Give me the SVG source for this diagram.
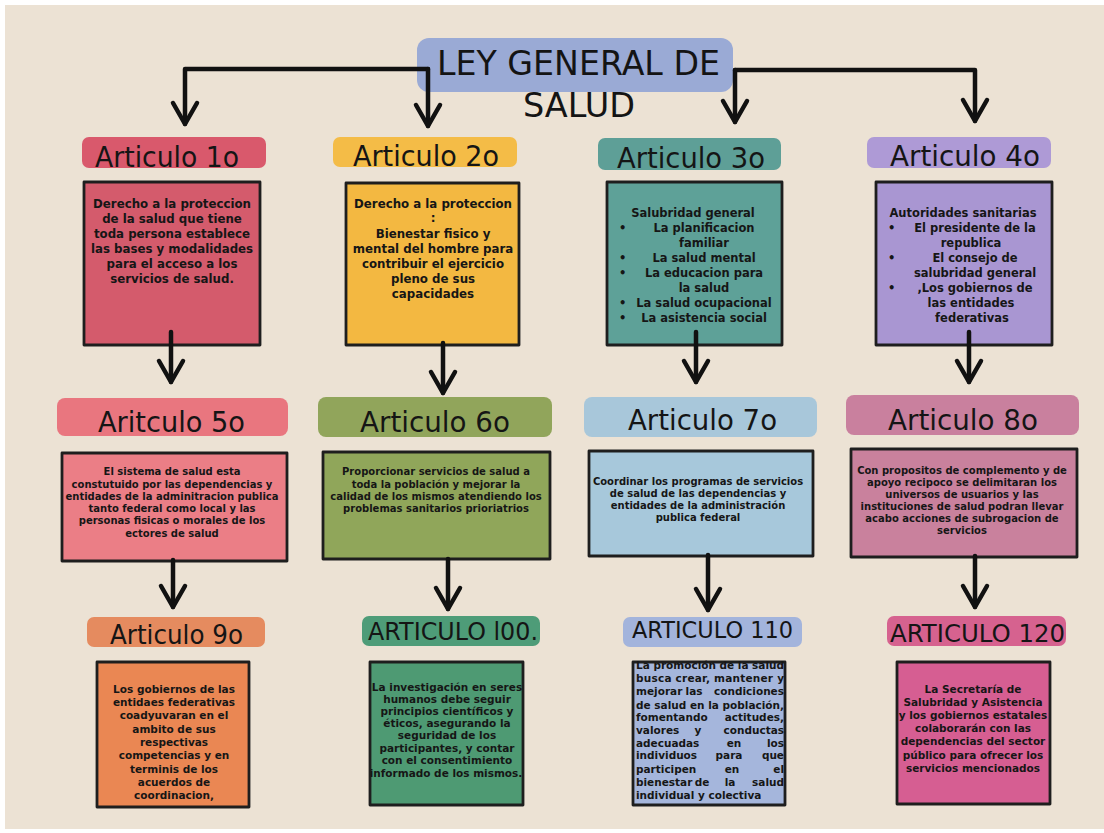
<svg xmlns="http://www.w3.org/2000/svg" width="1104" height="833" viewBox="0 0 1104 833">
<defs>
<style>
.hdr{font-family:"DejaVu Sans","Liberation Sans",sans-serif;fill:#151515;}
.tt{font-family:"DejaVu Sans","Liberation Sans",sans-serif;fill:#141414;font-size:34px;}
.bd{font-family:"DejaVu Sans","Liberation Sans",sans-serif;font-weight:bold;fill:#161616;text-anchor:middle;}
.bl{font-family:"DejaVu Sans","Liberation Sans",sans-serif;font-weight:bold;fill:#161616;}
.box{stroke:#1e1e1e;stroke-width:2.8;stroke-linejoin:round;}
.con{fill:none;stroke:#111;stroke-width:4.5;stroke-linecap:round;stroke-linejoin:round;marker-end:url(#ah);}
</style>
<marker id="ah" markerUnits="userSpaceOnUse" markerWidth="30" markerHeight="30" refX="0" refY="0" orient="auto" overflow="visible">
<path d="M-21,-12 L0,0 L-21,12" fill="none" stroke="#111" stroke-width="4.5" stroke-linecap="round" stroke-linejoin="round"/>
</marker>
</defs>
<rect x="0" y="0" width="1104" height="833" fill="#ffffff"/>
<rect x="5" y="5" width="1099" height="824" fill="#ECE2D4"/>

<g id="title">
<rect x="417" y="38" width="316" height="54" rx="12" fill="#9AAAD5"/>
<text class="tt" x="437" y="75" textLength="283" lengthAdjust="spacingAndGlyphs">LEY GENERAL DE</text>
<text class="tt" x="523" y="117" textLength="112" lengthAdjust="spacingAndGlyphs">SALUD</text>
</g>

<g id="art1">
<rect x="82" y="137" width="184" height="31" rx="7" fill="#D9596C"/>
<text class="hdr" x="95" y="167" font-size="27.5" textLength="144" lengthAdjust="spacingAndGlyphs">Articulo 1o</text>
<rect class="box" x="84" y="182" width="176" height="163" fill="#D45B6C"/>
<text class="bd" font-size="11.8"><tspan x="172" y="208">Derecho a la proteccion</tspan><tspan x="172" y="223">de la salud que tiene</tspan><tspan x="172" y="238">toda persona establece</tspan><tspan x="172" y="253">las bases y modalidades</tspan><tspan x="172" y="268">para el acceso a los</tspan><tspan x="172" y="283">servicios de salud.</tspan></text>
</g>

<g id="art2">
<rect x="333" y="137" width="184" height="30" rx="7" fill="#F4BC47"/>
<text class="hdr" x="353" y="166" font-size="27.5" textLength="146" lengthAdjust="spacingAndGlyphs">Articulo 2o</text>
<rect class="box" x="346" y="183" width="173" height="162" fill="#F3B841"/>
<text class="bd" font-size="11.8"><tspan x="433" y="208">Derecho a la proteccion</tspan><tspan x="433" y="222">:</tspan><tspan x="433" y="238">Bienestar fisico y</tspan><tspan x="433" y="253">mental del hombre para</tspan><tspan x="433" y="268">contribuir el ejercicio</tspan><tspan x="433" y="283">pleno de sus</tspan><tspan x="433" y="298">capacidades</tspan></text>
</g>

<g id="art3">
<rect x="598" y="138" width="183" height="32" rx="7" fill="#5E9F97"/>
<text class="hdr" x="617" y="168" font-size="27.5" textLength="148" lengthAdjust="spacingAndGlyphs">Articulo 3o</text>
<rect class="box" x="607" y="182" width="175" height="163" fill="#5EA198"/>
<text class="bd" font-size="11.5"><tspan x="693" y="217">Salubridad general</tspan><tspan x="704" y="232">La planificacion</tspan><tspan x="704" y="247">familiar</tspan><tspan x="704" y="262">La salud mental</tspan><tspan x="704" y="277">La educacion para</tspan><tspan x="704" y="292">la salud</tspan><tspan x="704" y="307">La salud ocupacional</tspan><tspan x="704" y="322">La asistencia social</tspan></text>
<text class="bl" font-size="11.5"><tspan x="619" y="232">•</tspan><tspan x="619" y="262">•</tspan><tspan x="619" y="277">•</tspan><tspan x="619" y="307">•</tspan><tspan x="619" y="322">•</tspan></text>
</g>

<g id="art4">
<rect x="867" y="137" width="184" height="31" rx="7" fill="#AE9AD6"/>
<text class="hdr" x="890" y="166" font-size="27.5" textLength="150" lengthAdjust="spacingAndGlyphs">Articulo 4o</text>
<rect class="box" x="876" y="182" width="176" height="163" fill="#A996D2"/>
<text class="bd" font-size="11.5"><tspan x="963" y="217">Autoridades sanitarias</tspan><tspan x="975" y="232">El presidente de la</tspan><tspan x="971" y="247">republica</tspan><tspan x="975" y="262">El consejo de</tspan><tspan x="975" y="277">salubridad general</tspan><tspan x="975" y="292">,Los gobiernos de</tspan><tspan x="971" y="307">las entidades</tspan><tspan x="972" y="322">federativas</tspan></text>
<text class="bl" font-size="11.5"><tspan x="888" y="232">•</tspan><tspan x="888" y="262">•</tspan><tspan x="888" y="292">•</tspan></text>
</g>

<g id="art5">
<rect x="57" y="398" width="231" height="38" rx="8" fill="#E9767F"/>
<text class="hdr" x="98" y="432" font-size="27.5" textLength="147" lengthAdjust="spacingAndGlyphs">Aritculo 5o</text>
<rect class="box" x="62" y="453" width="225" height="108" fill="#EB7E86"/>
<text class="bd" font-size="10"><tspan x="172" y="475">El sistema de salud  esta</tspan><tspan x="172" y="488">constutuido por las dependencias y</tspan><tspan x="172" y="500">entidades de la adminitracion publica</tspan><tspan x="172" y="512">tanto federal como local y las</tspan><tspan x="172" y="524">personas fisicas o morales de los</tspan><tspan x="172" y="537">ectores de salud</tspan></text>
</g>

<g id="art6">
<rect x="318" y="397" width="234" height="40" rx="8" fill="#91A55B"/>
<text class="hdr" x="360" y="432" font-size="27.5" textLength="150" lengthAdjust="spacingAndGlyphs">Articulo 6o</text>
<rect class="box" x="323" y="452" width="227" height="107" fill="#90A65A"/>
<text class="bd" font-size="10"><tspan x="436" y="475">Proporcionar servicios de salud a</tspan><tspan x="436" y="488">toda la población y mejorar la</tspan><tspan x="436" y="500">calidad de los mismos atendiendo los</tspan><tspan x="436" y="512">problemas sanitarios prioriatrios</tspan></text>
</g>

<g id="art7">
<rect x="584" y="397" width="233" height="40" rx="8" fill="#A8C7DA"/>
<text class="hdr" x="628" y="430" font-size="27.5" textLength="149" lengthAdjust="spacingAndGlyphs">Articulo 7o</text>
<rect class="box" x="589" y="451" width="224" height="105" fill="#A7C8DB"/>
<text class="bd" font-size="10"><tspan x="698" y="485">Coordinar los programas de servicios</tspan><tspan x="698" y="497">de salud de las dependencias y</tspan><tspan x="698" y="509">entidades de la administración</tspan><tspan x="698" y="521">publica federal</tspan></text>
</g>

<g id="art8">
<rect x="846" y="395" width="233" height="40" rx="8" fill="#C9809E"/>
<text class="hdr" x="888" y="430" font-size="27.5" textLength="150" lengthAdjust="spacingAndGlyphs">Articulo 8o</text>
<rect class="box" x="851" y="449" width="226" height="108" fill="#C9819D"/>
<text class="bd" font-size="10"><tspan x="962" y="474">Con propositos de complemento y de</tspan><tspan x="962" y="486">apoyo recipoco se delimitaran los</tspan><tspan x="962" y="498">universos de usuarios y las</tspan><tspan x="962" y="510">instituciones de salud podran llevar</tspan><tspan x="962" y="522">acabo acciones de subrogacion de</tspan><tspan x="962" y="534">servicios</tspan></text>
</g>

<g id="art9">
<rect x="87" y="617" width="178" height="30" rx="7" fill="#E58B5F"/>
<text class="hdr" x="110" y="644" font-size="26" textLength="133" lengthAdjust="spacingAndGlyphs">Articulo 9o</text>
<rect class="box" x="97" y="662" width="152" height="145" fill="#EA8753"/>
<text class="bd" font-size="10.5"><tspan x="174" y="693">Los gobiernos de las</tspan><tspan x="174" y="706">entidaes federativas</tspan><tspan x="174" y="719">coadyuvaran en el</tspan><tspan x="174" y="733">ambito de sus</tspan><tspan x="174" y="746">respectivas</tspan><tspan x="174" y="759">competencias y en</tspan><tspan x="174" y="773">terminis de los</tspan><tspan x="174" y="786">acuerdos de</tspan><tspan x="174" y="799">coordinacion,</tspan></text>
</g>

<g id="art100">
<rect x="362" y="616" width="178" height="30" rx="7" fill="#4E9C78"/>
<text class="hdr" x="368" y="640" font-size="24.5" textLength="170" lengthAdjust="spacingAndGlyphs">ARTICULO l00.</text>
<rect class="box" x="370" y="662" width="153" height="143" fill="#4E9A73"/>
<text class="bd" font-size="10.5"><tspan x="447" y="691">La investigación en seres</tspan><tspan x="447" y="703">humanos debe seguir</tspan><tspan x="447" y="715">principios científicos y</tspan><tspan x="447" y="727">éticos, asegurando la</tspan><tspan x="447" y="739">seguridad de los</tspan><tspan x="447" y="752">participantes, y contar</tspan><tspan x="447" y="764">con el consentimiento</tspan><tspan x="446" y="777">informado de los mismos.</tspan></text>
</g>

<g id="art110">
<rect x="623" y="617" width="179" height="30" rx="7" fill="#A3B4DC"/>
<text class="hdr" x="632" y="638" font-size="23" textLength="161" lengthAdjust="spacingAndGlyphs">ARTICULO 110</text>
<rect class="box" x="633" y="662" width="152" height="143" fill="#A5B6DC"/>
<g class="bl" font-size="10.5">
<text x="636" y="669" textLength="148" lengthAdjust="spacing">La promoción de la salud</text>
<text x="636" y="682" textLength="148" lengthAdjust="spacing">busca crear, mantener y</text>
<text x="636" y="695">mejorar</text><text x="694" y="695" text-anchor="middle">las</text><text x="784" y="695" text-anchor="end">condiciones</text>
<text x="636" y="709" textLength="148" lengthAdjust="spacing">de salud en la población,</text>
<text x="636" y="721">fomentando</text><text x="784" y="721" text-anchor="end">actitudes,</text>
<text x="636" y="734">valores</text><text x="698" y="734" text-anchor="middle">y</text><text x="784" y="734" text-anchor="end">conductas</text>
<text x="636" y="747">adecuadas</text><text x="734" y="747" text-anchor="middle">en</text><text x="784" y="747" text-anchor="end">los</text>
<text x="636" y="759">individuos</text><text x="729" y="759" text-anchor="middle">para</text><text x="784" y="759" text-anchor="end">que</text>
<text x="636" y="773">participen</text><text x="732" y="773" text-anchor="middle">en</text><text x="784" y="773" text-anchor="end">el</text>
<text x="636" y="786">bienestar</text><text x="702" y="786" text-anchor="middle">de</text><text x="730" y="786" text-anchor="middle">la</text><text x="784" y="786" text-anchor="end">salud</text>
<text x="636" y="799">individual y colectiva</text>
</g>
</g>

<g id="art120">
<rect x="887" y="616" width="179" height="30" rx="7" fill="#D6628F"/>
<text class="hdr" x="890" y="642" font-size="25" textLength="175" lengthAdjust="spacingAndGlyphs">ARTICULO 120</text>
<rect class="box" x="897" y="662" width="153" height="142" fill="#D65E92"/>
<text class="bd" font-size="10.5"><tspan x="973" y="693">La Secretaría de</tspan><tspan x="973" y="706">Salubridad y Asistencia</tspan><tspan x="973" y="719">y los gobiernos estatales</tspan><tspan x="973" y="732">colaborarán con las</tspan><tspan x="973" y="745">dependencias del sector</tspan><tspan x="973" y="759">público para ofrecer los</tspan><tspan x="973" y="772">servicios mencionados</tspan></text>
</g>

<g id="connectors">
<path class="con" d="M428,69 L185,69 L185,124"/>
<path class="con" d="M428,69 L428,126"/>
<path class="con" d="M735,70 L975,70 L975,121"/>
<path class="con" d="M735,70 L735,122"/>
<path class="con" d="M171,332 L171,382"/>
<path class="con" d="M443,343 L443,393"/>
<path class="con" d="M696,332 L696,382"/>
<path class="con" d="M969,332 L969,382"/>
<path class="con" d="M173,560 L173,607"/>
<path class="con" d="M448,559 L448,609"/>
<path class="con" d="M708,555 L708,610"/>
<path class="con" d="M975,556 L975,607"/>
</g>
</svg>
